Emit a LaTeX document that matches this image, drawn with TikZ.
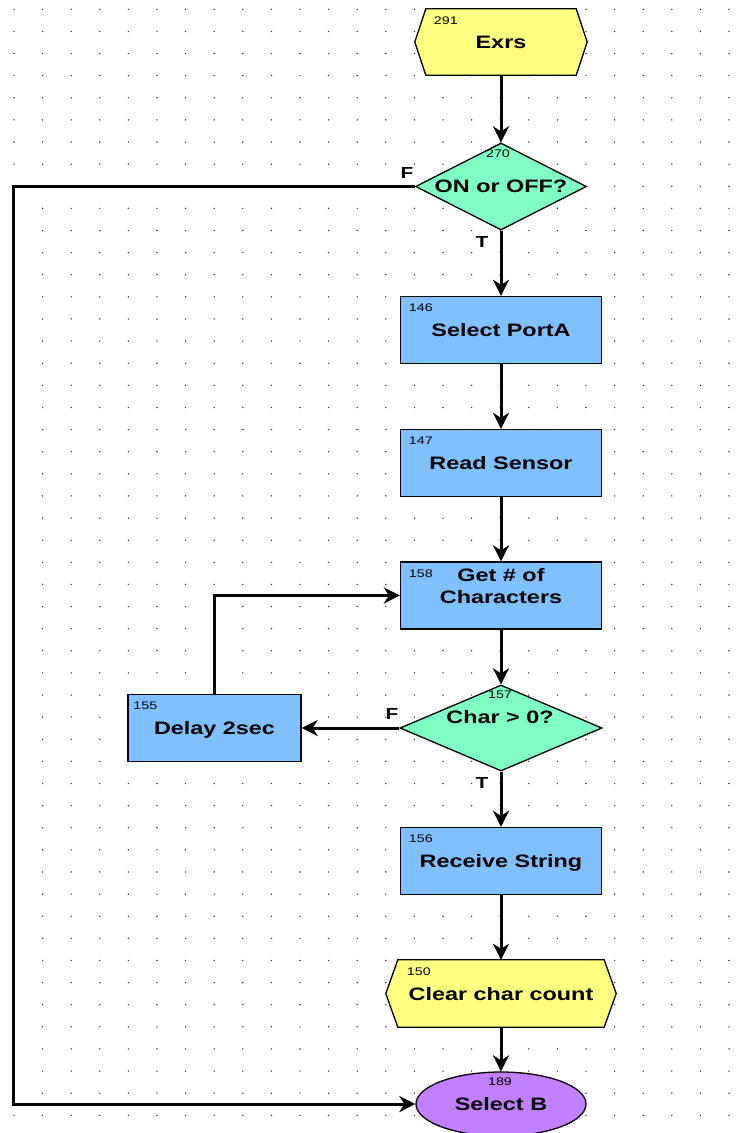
\documentclass[tikz,border=0pt]{standalone}
\usepackage{fontspec}
\setmainfont{Liberation Sans}[FakeStretch=1.3]
\usetikzlibrary{arrows.meta,shapes.geometric,calc}
\pgfdeclarelayer{grid}
\pgfdeclarelayer{bg}
\pgfsetlayers{grid,bg,main}

\definecolor{hexyellow}{RGB}{255,255,128}
\definecolor{decgreen}{RGB}{128,255,196}
\definecolor{procblue}{RGB}{128,192,255}
\definecolor{endviolet}{RGB}{192,128,255}

% outline of a flat hexagon drawn around a (borderless) rectangular node
\newcommand\drawhexagon[2]{%
  \begin{pgfonlayer}{bg}
    \draw[shapeline, fill=hexyellow] (#1.west) -- ($(#1.north west)+(#2,0)$)
      -- ($(#1.north east)+(-#2,0)$) -- (#1.east)
      -- ($(#1.south east)+(-#2,0)$) -- ($(#1.south west)+(#2,0)$) -- cycle;
  \end{pgfonlayer}}

\begin{document}
\begin{tikzpicture}[x=1pt,y=-1pt,
  shapeline/.style={draw=black, line width=1.3pt, line join=miter},
  titletext/.style={font=\bfseries\fontsize{18}{22}\selectfont, text height=13pt, text depth=0pt, align=center},
  numtext/.style={font=\fontsize{11}{12}\selectfont, inner sep=0pt},
  branchtext/.style={font=\bfseries\fontsize{16}{18}\selectfont, inner sep=0pt},
  hexnode/.style={titletext, shape=rectangle, draw=none, inner sep=0pt},
  procbox/.style={titletext, shapeline, fill=procblue, minimum width=201pt, minimum height=67pt, inner sep=0pt},
  decision/.style={shape=diamond, shapeline, fill=decgreen, inner sep=0pt},
  terminal/.style={titletext, shape=ellipse, shapeline, fill=endviolet, minimum width=170pt, minimum height=64pt, inner sep=0pt},
  flow/.style={draw=black, line width=3pt, line join=miter, -{Stealth[length=16pt,width=16pt,inset=5pt]}}
]
\useasboundingbox (0,0) rectangle (754,1133);

% white sheet with its dotted drawing grid
\begin{pgfonlayer}{grid}
  \fill[white] (0,0) rectangle (754,1133);
  \foreach \i in {0,...,25}
    \foreach \j in {0,...,51}
      \fill[black!75] ({14+28.6*\i},{9.3+22.12*\j}) circle (0.8pt);
\end{pgfonlayer}

% blocks
\node[hexnode, minimum width=172pt, minimum height=66pt] (n291) at (501,42) {Exrs};
\drawhexagon{n291}{11}
\node[decision, minimum width=171pt, minimum height=87pt] (n270) at (501,186.5) {};
\node[procbox] (n146) at (501,330) {Select PortA};
\node[procbox] (n147) at (501,463) {Read Sensor};
\node[procbox] (n158) at (501,595.5) {};
\node[decision, minimum width=202pt, minimum height=86pt] (n157) at (501,728) {};
\node[procbox, minimum width=173pt] (n155) at (214.5,728) {Delay 2sec};
\node[procbox] (n156) at (501,861) {Receive String};
\node[hexnode, minimum width=230pt, minimum height=67pt] (n150) at (501,993.5) {Clear char count};
\drawhexagon{n150}{12}
\node[terminal] (n189) at (501,1104) {Select B};

% texts placed off the block centres
\node[titletext] (t270) at (501,186) {ON or OFF?};
\node[titletext] (t158) at (501,597) {Get \# of\\Characters};
\node[titletext] (t157) at (500,717) {Char > 0?};

% block numbers
\node[numtext] (k291) at ($(n291.north west)+(31,12)$) {291};
\node[numtext] (k270) at (498,154) {270};
\node[numtext] (k146) at ($(n146.north west)+(21,12)$) {146};
\node[numtext] (k147) at ($(n147.north west)+(21,12)$) {147};
\node[numtext] (k158) at ($(n158.north west)+(21,12)$) {158};
\node[numtext] (k157) at (500,695) {157};
\node[numtext] (k155) at ($(n155.north west)+(18,12)$) {155};
\node[numtext] (k156) at ($(n156.north west)+(21,12)$) {156};
\node[numtext] (k150) at ($(n150.north west)+(33,12)$) {150};
\node[numtext] (k189) at (500,1082) {189};

% branch labels
\node[branchtext] (f270) at (407,173) {F};
\node[branchtext] (tr270) at (482,242) {T};
\node[branchtext] (f157) at (392,714) {F};
\node[branchtext] (tr157) at (482,783) {T};

% connectors
\draw[flow] (n291.south) -- (n270.north);
\draw[flow] (n270.south) -- (n146.north);
\draw[flow] (n146.south) -- (n147.north);
\draw[flow] (n147.south) -- (n158.north);
\draw[flow] (n158.south) -- (n157.north);
\draw[flow] (n157.west) -- (n155.east);
\draw[flow] (n155.north) |- (n158.west);
\draw[flow] (n157.south) -- (n156.north);
\draw[flow] (n156.south) -- (n150.north);
\draw[flow] (n150.south) -- (n189.north);
\coordinate (loopcorner) at (13,186.5);
\draw[flow] (n270.west) -- (loopcorner) |- (n189.west);
\end{tikzpicture}
\end{document}
